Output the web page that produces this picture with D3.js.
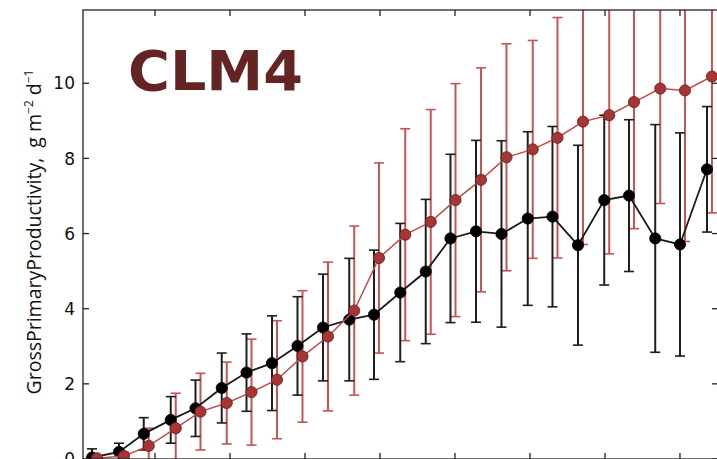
<!DOCTYPE html>
<html>
<head>
<meta charset="utf-8">
<script src="https://cdn.jsdelivr.net/npm/d3@7"></script>
<style>
  body { margin: 0; background: #fff; }
  svg { display: block; }
</style>
</head>
<body>
<svg id="chart" width="717" height="459"></svg>
<script>
// bin positions along x (tick labels are cut off in the picture)
const xBins = [1.6, 5.2, 8.5, 12.1, 15.4, 18.9, 22.2, 25.6, 29.0, 32.4, 35.9, 39.2, 42.7,
               46.1, 49.4, 52.8, 56.2, 59.7, 63.0, 66.4, 69.9, 73.2, 76.7, 80.0, 83.6];

// black series: mean and half-width of the error bar
const gppBlack = [0.04, 0.19, 0.67, 1.04, 1.35, 1.89, 2.30, 2.55, 3.01, 3.50, 3.71, 3.84, 4.43,
                  4.99, 5.87, 6.06, 5.99, 6.40, 6.45, 5.69, 6.89, 7.01, 5.87, 5.71, 7.71];
const errBlack = [0.23, 0.23, 0.43, 0.62, 0.75, 0.93, 1.03, 1.26, 1.31, 1.42, 1.63, 1.72, 1.84,
                  1.92, 2.24, 2.42, 2.48, 2.31, 2.40, 2.66, 2.26, 2.02, 3.03, 2.97, 1.67];

// red series
const gppRed = [0.02, 0.08, 0.35, 0.82, 1.26, 1.49, 1.78, 2.11, 2.73, 3.26, 3.95, 5.35, 5.97,
                6.31, 6.89, 7.43, 8.03, 8.24, 8.55, 8.98, 9.15, 9.50, 9.86, 9.81, 10.18];
const errRed = [0.03, 0.10, 0.47, 0.93, 1.02, 1.09, 1.41, 1.57, 1.75, 1.98, 2.25, 2.53, 2.82,
                2.99, 3.10, 2.98, 3.02, 2.90, 3.20, 3.27, 3.69, 3.37, 3.06, 4.02, 3.63];

const xTicks = [10, 20, 30, 40, 50, 60, 70, 80];
const yTicks = [0, 2, 4, 6, 8, 10];
const title = "CLM4";

const pLeft = 83, pRight = 718, pTop = 10, pBottom = 459;
const redShift = 5;   // red points are drawn a little to the right of the black ones

var x = d3.scaleLinear().domain([0.4, 85.07]).range([pLeft, pRight]);
var y = d3.scaleLinear().domain([0, 11.95]).range([pBottom, pTop]);

var svg = d3.select("#chart");

svg.append("clipPath").attr("id", "plot")
   .append("rect").attr("x", pLeft).attr("y", pTop)
   .attr("width", pRight - pLeft).attr("height", pBottom - pTop);

function series(vals, errs, shift, o) {
    var pts = xBins.map((b, i) => [x(b) + shift, vals[i], errs[i]]);
    var g = svg.append("g").attr("clip-path", "url(#plot)");

    // error bars with caps
    g.selectAll("line.bar").data(pts).join("line").attr("class", "bar")
        .attr("x1", d => d[0]).attr("x2", d => d[0])
        .attr("y1", d => y(d[1] - d[2])).attr("y2", d => y(d[1] + d[2]))
        .attr("stroke", o.bar).attr("stroke-width", 2);
    var caps = pts.flatMap(d => [[d[0], d[1] - d[2]], [d[0], d[1] + d[2]]]);
    g.selectAll("line.cap").data(caps).join("line").attr("class", "cap")
        .attr("x1", d => d[0] - 5).attr("x2", d => d[0] + 5)
        .attr("y1", d => y(d[1])).attr("y2", d => y(d[1]))
        .attr("stroke", o.bar).attr("stroke-width", 1.6);
    return pts;
}

function points(pts, o) {
    var g = svg.append("g");
    g.append("path").datum(pts)
        .attr("d", d3.line().x(d => d[0]).y(d => y(d[1])))
        .attr("fill", "none").attr("stroke", o.line).attr("stroke-width", o.lw);
    g.selectAll("circle").data(pts).join("circle")
        .attr("cx", d => d[0]).attr("cy", d => y(d[1])).attr("r", 5.6)
        .attr("fill", o.fill).attr("stroke", o.edge).attr("stroke-width", 0.8);
}

var redStyle = { bar: "#c65454", line: "#c24c4c", lw: 1.5, fill: "#a83434", edge: "#5e1e1e" };
var blackStyle = { bar: "#1e1e1e", line: "#1a1a1a", lw: 1.8, fill: "#000", edge: "#000" };

var redPts = series(gppRed, errRed, redShift, redStyle);
var blackPts = series(gppBlack, errBlack, 0, blackStyle);
points(blackPts, blackStyle);
points(redPts, redStyle);

// frame and inward ticks
var axes = svg.append("g").attr("stroke", "#222").attr("stroke-width", 1.3);
axes.append("rect").attr("x", pLeft).attr("y", pTop)
    .attr("width", pRight - pLeft).attr("height", pBottom - pTop).attr("fill", "none");
axes.selectAll("line.xt").data(xTicks).join("line").attr("class", "xt")
    .attr("x1", d => x(d)).attr("x2", d => x(d)).attr("y1", pTop).attr("y2", pTop + 6);
axes.selectAll("line.xb").data(xTicks).join("line").attr("class", "xb")
    .attr("x1", d => x(d)).attr("x2", d => x(d)).attr("y1", pBottom).attr("y2", pBottom - 6);
axes.selectAll("line.yl").data(yTicks).join("line").attr("class", "yl")
    .attr("x1", pLeft).attr("x2", pLeft + 6).attr("y1", d => y(d)).attr("y2", d => y(d));
axes.selectAll("line.yr").data(yTicks).join("line").attr("class", "yr")
    .attr("x1", pRight).attr("x2", pRight - 6).attr("y1", d => y(d)).attr("y2", d => y(d));

svg.append("g").selectAll("text").data(yTicks).join("text")
    .attr("x", pLeft - 8).attr("y", d => y(d)).attr("dy", "0.36em")
    .attr("text-anchor", "end")
    .attr("font-family", "DejaVu Sans").attr("font-size", 17).attr("fill", "#111")
    .text(d => d);

// y label with superscripts
var lab = svg.append("text")
    .attr("transform", "translate(41,232) rotate(-90)")
    .attr("text-anchor", "middle")
    .attr("font-family", "Open Sans").attr("font-size", 19.5).attr("fill", "#111");
lab.append("tspan").text("GrossPrimaryProductivity,\u00a0 g m");
lab.append("tspan").attr("dy", -8).attr("font-size", 12).text("\u22122");
lab.append("tspan").attr("dy", 8).text(" d");
lab.append("tspan").attr("dy", -8).attr("font-size", 12).text("\u22121");

svg.append("text").attr("x", 128).attr("y", 90)
    .attr("font-family", "DejaVu Sans").attr("font-weight", "bold").attr("font-size", 55)
    .attr("textLength", 175).attr("lengthAdjust", "spacingAndGlyphs")
    .attr("fill", "#652424").text(title);
</script>
</body>
</html>
